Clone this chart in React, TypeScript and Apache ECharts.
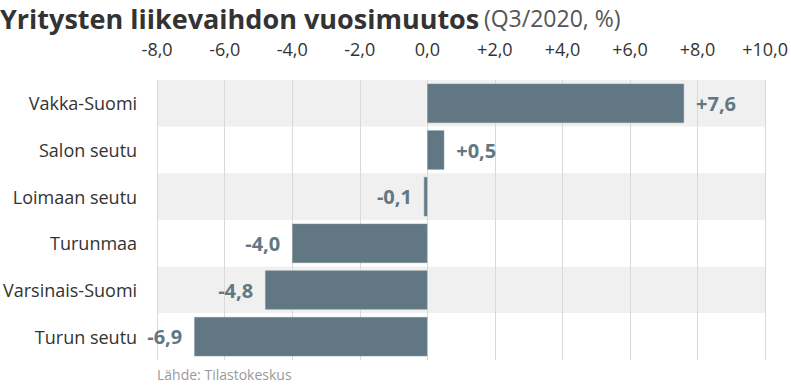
import React, { useEffect, useRef } from "react";
import * as echarts from "echarts";

const categories = ["Vakka-Suomi", "Salon seutu", "Loimaan seutu", "Turunmaa", "Varsinais-Suomi", "Turun seutu"];
const values = [7.6, 0.5, -0.1, -4.0, -4.8, -6.9];
const axisMin = -8;
const axisMax = 10;
const axisStep = 2;

const fmt = (v: number) => (v > 0 ? "+" : "") + v.toFixed(1).replace(".", ",");

export default function App() {
  const ref = useRef<HTMLDivElement>(null);
  useEffect(() => {
    document.body.style.margin = "0";
    const chart = echarts.init(ref.current!, null, { renderer: "svg" });
    const font = "'Open Sans', sans-serif";
    chart.setOption({
      animation: false,
      textStyle: { fontFamily: font },
      title: {
        text: "{b|Yritysten liikevaihdon vuosimuutos} {r|(Q3/2020, %)}",
        left: 0,
        top: 2,
        padding: 0,
        textStyle: {
          lineHeight: 32,
          rich: {
            b: { fontFamily: font, fontWeight: "bold", fontSize: 27, color: "#333333", lineHeight: 32 },
            r: { fontFamily: font, fontWeight: "normal", fontSize: 23, color: "#555555", lineHeight: 32 },
          },
        },
      },
      graphic: [
        {
          type: "text",
          left: 157,
          top: 367,
          style: { text: "Lähde: Tilastokeskus", fontFamily: font, fontSize: 14, fill: "#999999" },
        },
      ],
      grid: { left: 157, right: 25, top: 80, bottom: 26, containLabel: false },
      xAxis: {
        type: "value",
        position: "top",
        min: axisMin,
        max: axisMax,
        interval: axisStep,
        axisLine: { show: false },
        axisTick: { show: false },
        axisLabel: { formatter: fmt, fontSize: 18, color: "#333333", margin: 22, fontFamily: font },
        splitLine: { show: true, lineStyle: { color: "#d9d9d9", width: 1 } },
      },
      yAxis: {
        type: "category",
        data: categories,
        inverse: true,
        axisLine: { show: false },
        axisTick: { show: false },
        axisLabel: { fontSize: 18, color: "#333333", margin: 20, fontFamily: font },
        splitArea: { show: true, areaStyle: { color: ["#f0f0f0", "#ffffff"] } },
      },
      series: [
        {
          type: "bar",
          barCategoryGap: "16%",
          data: values.map((v) => ({
            value: v,
            label: { position: v >= 0 ? "right" : "left" },
          })),
          itemStyle: { color: "#617884", borderColor: "#7d909b", borderWidth: 0.5 },
          label: {
            show: true,
            formatter: (p: any) => fmt(p.value),
            fontSize: 20,
            fontWeight: "bold",
            color: "#617884",
            distance: 12,
            fontFamily: font,
          },
          z: 3,
        },
      ],
    });
    return () => chart.dispose();
  }, []);
  return <div ref={ref} style={{ width: 791, height: 386 }} />;
}
